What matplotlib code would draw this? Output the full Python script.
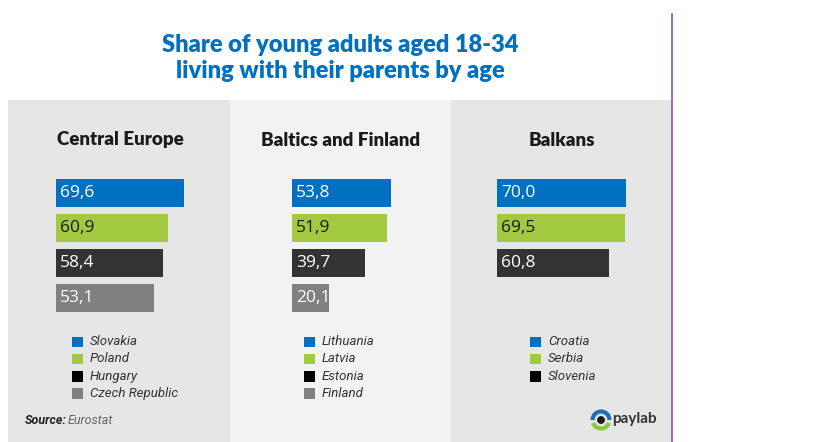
import matplotlib.pyplot as plt
from matplotlib.patches import Rectangle, Circle, Arc

W, H = 822, 442

TITLE = "Share of young adults aged 18-34\nliving with their parents by age"
PANELS = ["Central Europe", "Baltics and Finland", "Balkans"]

central_names = ["Slovakia", "Poland", "Hungary", "Czech Republic"]
central_values = [69.6, 60.9, 58.4, 53.1]

baltic_names = ["Lithuania", "Latvia", "Estonia", "Finland"]
baltic_values = [53.8, 51.9, 39.7, 20.1]

balkan_names = ["Croatia", "Serbia", "Slovenia"]
balkan_values = [70.0, 69.5, 60.8]

BAR_COLOURS = ["#0070c0", "#a2c940", "#333333", "#808080"]
LEGEND_COLOURS = ["#0070c0", "#a2c940", "#000000", "#808080"]
LABEL_COLOURS = ["white", "#1a1a1a", "white", "white"]

PX_PER_UNIT = 1.84  # bar length scale in pixels
ITALIC = ["Roboto", "DejaVu Sans"]


def px_axes(fig, x, y, w, h):
    return fig.add_axes([x / W, 1 - (y + h) / H, w / W, h / H])


fig = plt.figure(figsize=(W / 100, H / 100), dpi=100)
plt.rcParams["font.family"] = ["Lato", "DejaVu Sans"]

bg = px_axes(fig, 0, 0, W, H)
bg.set_xlim(0, W)
bg.set_ylim(H, 0)
bg.axis("off")

# panel backgrounds
for x, w, c in [(8, 222, "#e6e6e6"), (230, 221, "#f2f2f2"), (451, 221, "#e6e6e6")]:
    bg.add_patch(Rectangle((x, 100), w, 342, color=c, lw=0))
bg.plot([672, 672], [14, H], color="#8a5a9c", lw=1.2)

bg.text(340, 58, TITLE, ha="center", va="center", color="#0070c0",
        fontsize=17, fontweight="heavy", linespacing=1.2)

panel_data = [(central_names, central_values, 56),
              (baltic_names, baltic_values, 292),
              (balkan_names, balkan_values, 497)]
title_x = [120, 341, 562]
legend_x = [72, 304, 530]

for p, (names, values, x0) in enumerate(panel_data):
    bg.text(title_x[p], 140, PANELS[p], ha="center", va="center",
            fontsize=13.5, fontweight="heavy", color="#1a1a1a")

    ax = px_axes(fig, x0, 175.5, 160, 140)
    ax.set_xlim(0, 160 / PX_PER_UNIT)
    ax.set_ylim(3.5, -0.5)
    ax.axis("off")
    rows = list(range(len(values)))
    ax.barh(rows, values, height=0.8, color=BAR_COLOURS[:len(values)])
    for r, v in zip(rows, values):
        ax.text(2.2, r, f"{v:.1f}".replace(".", ","), va="center", ha="left",
                fontsize=12.5, color=LABEL_COLOURS[r], family=["Open Sans", "DejaVu Sans"])

    for r, name in enumerate(names):
        yy = 341.5 + r * 17.3
        bg.add_patch(Rectangle((legend_x[p], yy - 5), 11, 10.5, color=LEGEND_COLOURS[r], lw=0))
        bg.text(legend_x[p] + 18, yy, name, va="center", ha="left", family=ITALIC,
                fontsize=9.5, style="italic", color="#333333")

bg.text(25, 420, "Source:", va="center", ha="left", fontsize=9, family=ITALIC,
        style="italic", fontweight="bold", color="#222222")
bg.text(68, 420, "Eurostat", va="center", ha="left", fontsize=9, family=ITALIC,
        style="italic", color="#666666")

# paylab logo
bg.add_patch(Arc((601, 420), 17, 17, theta1=180, theta2=360, color="#1f6fb5", lw=3))
bg.add_patch(Arc((601, 420), 17, 17, theta1=20, theta2=160, color="#8cc63f", lw=3))
bg.add_patch(Circle((601, 420), 3.2, color="#1a1a1a"))
bg.text(612, 419, "paylab", va="center", ha="left", fontsize=11,
        fontweight="bold", color="#333333")

fig.savefig("out.png", dpi=100)
